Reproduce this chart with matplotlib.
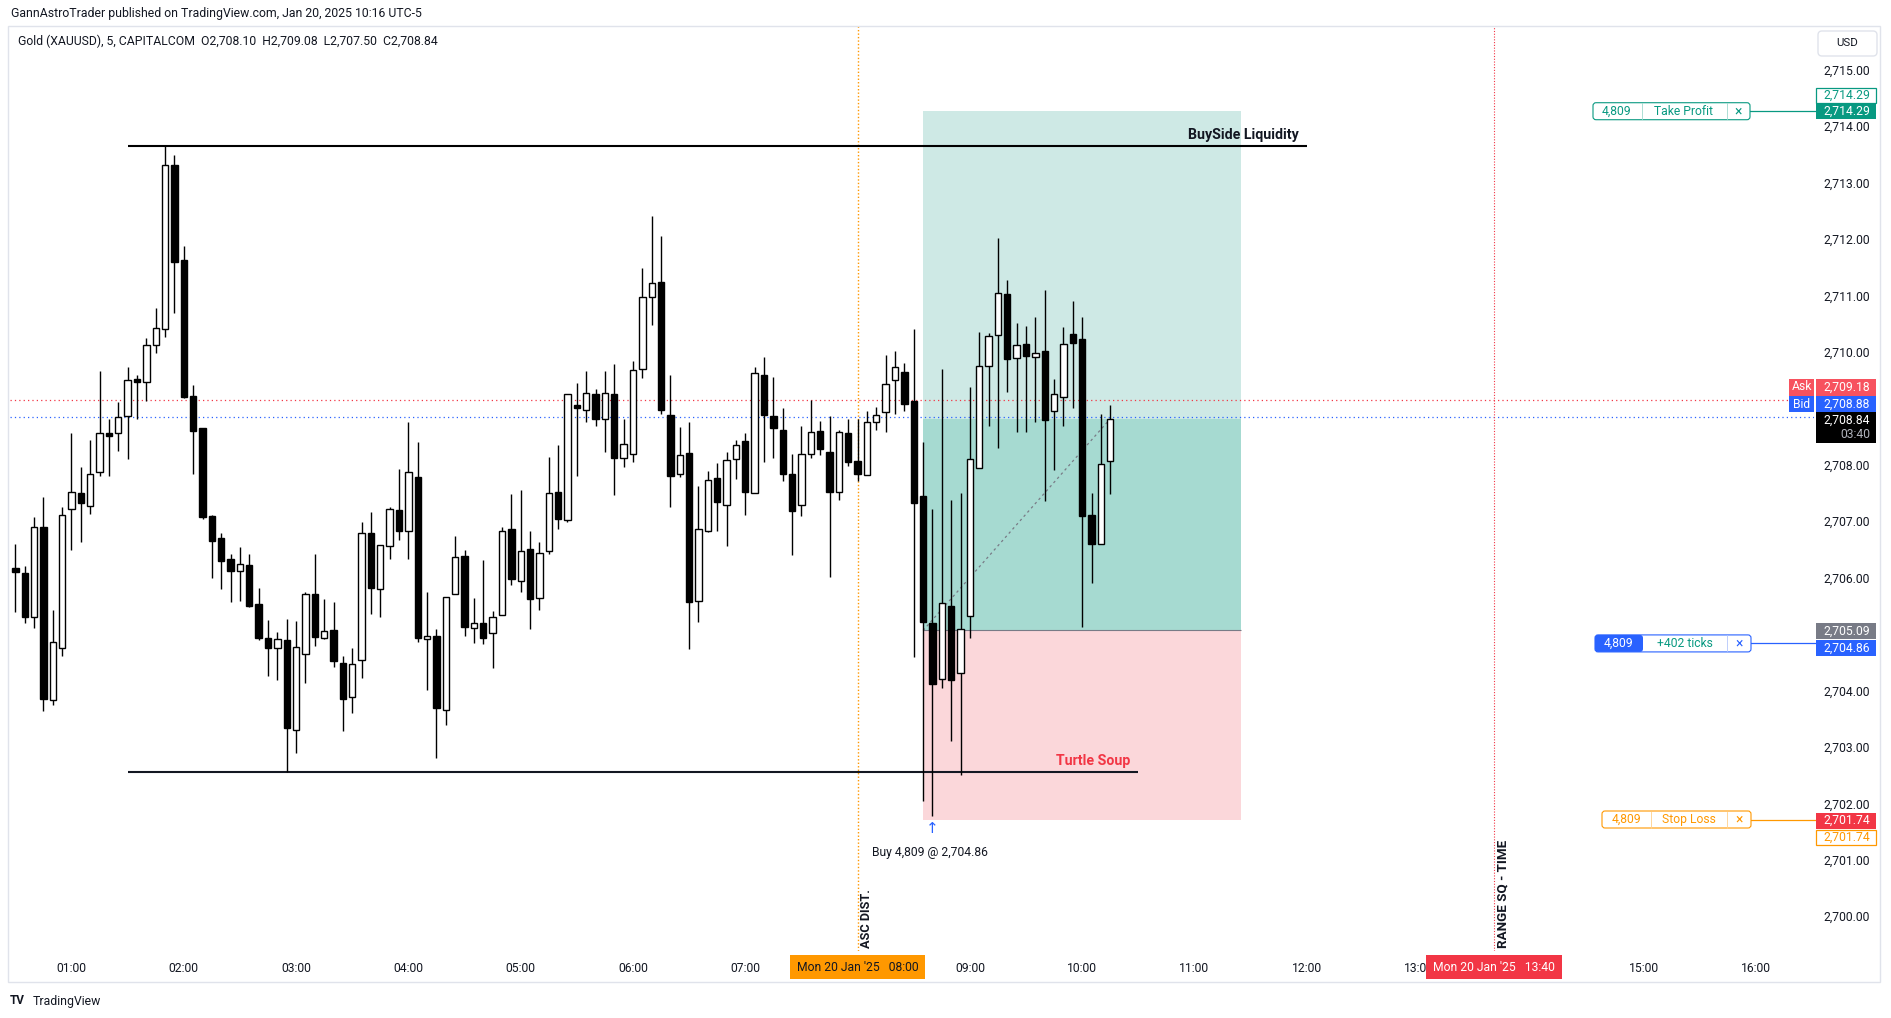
import numpy as np
import matplotlib.pyplot as plt
from matplotlib.patches import FancyBboxPatch
from matplotlib.transforms import IdentityTransform

plt.rcParams['font.family'] = ['Roboto', 'DejaVu Sans']

W, H = 1891, 1018

# 5 minute bars of Gold (XAUUSD), first bar 00:30
first_bar = '00:30'
bar_minutes = 5
opens = [2706.19, 2706.11, 2705.33, 2706.92, 2703.85, 2704.78, 2707.24, 2707.52, 2707.30, 2707.89,
         2708.58, 2708.58, 2708.89, 2709.53, 2709.49, 2710.15, 2710.44, 2713.34, 2711.66, 2709.25,
         2708.68, 2707.11, 2706.72, 2706.35, 2706.14, 2706.25, 2705.56, 2704.96, 2704.77, 2704.92,
         2703.33, 2704.67, 2705.74, 2704.96, 2705.10, 2704.51, 2703.91, 2704.57, 2706.82, 2705.83,
         2706.58, 2707.23, 2706.85, 2707.80, 2704.94, 2704.99, 2703.68, 2705.74, 2706.41, 2705.13,
         2705.23, 2705.05, 2705.37, 2706.88, 2705.97, 2706.54, 2705.67, 2706.49, 2707.55, 2707.05,
         2709.09, 2708.99, 2709.28, 2708.83, 2709.28, 2708.14, 2708.21, 2709.72, 2710.99, 2711.27,
         2708.90, 2707.86, 2708.23, 2705.62, 2706.85, 2707.79, 2707.32, 2708.12, 2708.44, 2707.52,
         2709.61, 2708.89, 2708.65, 2707.86, 2707.32, 2708.21, 2708.62, 2708.25, 2707.55, 2708.59,
         2708.09, 2707.84, 2708.79, 2708.96, 2709.52, 2709.67, 2709.15, 2707.47, 2705.23, 2704.23,
         2705.53, 2704.34, 2705.35, 2707.96, 2709.77, 2710.33, 2711.05, 2709.92, 2710.16, 2709.94,
         2710.04, 2708.97, 2709.22, 2710.35, 2710.26, 2707.13, 2706.62, 2708.10]
highs = [2706.62, 2706.24, 2707.10, 2707.46, 2705.45, 2707.28, 2708.58, 2707.99, 2708.47, 2709.68,
         2708.83, 2709.13, 2709.76, 2709.62, 2710.28, 2710.80, 2713.68, 2713.51, 2711.90, 2709.44,
         2708.68, 2707.14, 2706.82, 2706.44, 2706.57, 2706.44, 2705.84, 2705.28, 2705.06, 2705.30,
         2705.25, 2705.77, 2706.44, 2705.64, 2705.59, 2704.63, 2704.77, 2707.01, 2707.19, 2706.60,
         2707.28, 2707.95, 2708.79, 2708.43, 2705.77, 2705.11, 2705.69, 2706.76, 2706.51, 2705.67,
         2706.34, 2705.43, 2706.92, 2707.51, 2707.58, 2706.85, 2706.65, 2708.17, 2708.38, 2709.28,
         2709.48, 2709.68, 2709.37, 2709.69, 2709.81, 2708.84, 2709.86, 2711.51, 2712.43, 2712.08,
         2709.61, 2708.70, 2708.79, 2707.65, 2707.92, 2708.06, 2708.25, 2708.47, 2708.59, 2709.76,
         2709.94, 2709.58, 2709.04, 2708.22, 2708.72, 2709.18, 2708.80, 2708.89, 2708.65, 2708.83,
         2708.84, 2708.97, 2709.05, 2709.97, 2710.05, 2709.83, 2710.44, 2708.43, 2707.24, 2709.72,
         2707.41, 2707.52, 2709.40, 2710.38, 2710.36, 2712.04, 2711.30, 2710.54, 2710.48, 2710.65,
         2711.12, 2709.55, 2710.46, 2710.92, 2710.64, 2707.52, 2708.93, 2709.08]
lows = [2705.42, 2705.22, 2705.13, 2703.66, 2703.77, 2704.63, 2706.52, 2706.66, 2707.16, 2707.83,
        2707.83, 2708.27, 2708.12, 2708.83, 2709.15, 2710.00, 2710.29, 2710.72, 2709.20, 2707.86,
        2707.07, 2706.02, 2705.83, 2705.59, 2705.61, 2705.51, 2704.92, 2704.28, 2704.22, 2702.58,
        2702.91, 2704.16, 2704.81, 2704.94, 2704.44, 2703.31, 2703.62, 2704.24, 2705.38, 2705.32,
        2706.35, 2706.70, 2706.35, 2704.88, 2704.03, 2702.83, 2703.42, 2705.74, 2704.99, 2704.87,
        2704.85, 2704.42, 2705.37, 2705.90, 2705.77, 2705.12, 2705.46, 2706.45, 2706.89, 2707.02,
        2707.83, 2708.78, 2708.71, 2708.25, 2707.49, 2707.99, 2708.07, 2709.56, 2710.50, 2708.93,
        2707.28, 2707.80, 2704.76, 2705.24, 2706.84, 2706.85, 2706.59, 2707.78, 2707.13, 2707.52,
        2708.07, 2708.15, 2707.73, 2706.43, 2707.11, 2708.14, 2708.19, 2706.04, 2707.41, 2708.01,
        2707.73, 2707.84, 2708.64, 2708.60, 2708.93, 2708.97, 2704.62, 2702.07, 2701.80, 2704.07,
        2703.13, 2702.52, 2704.95, 2707.96, 2708.72, 2708.32, 2709.31, 2708.61, 2708.60, 2708.79,
        2707.39, 2707.93, 2708.71, 2709.04, 2705.15, 2705.93, 2706.62, 2707.50]
closes = [2706.13, 2705.32, 2706.93, 2703.87, 2704.88, 2707.14, 2707.54, 2707.34, 2707.87, 2708.58,
          2708.54, 2708.87, 2709.53, 2709.49, 2710.15, 2710.45, 2713.33, 2711.62, 2709.22, 2708.62,
          2707.10, 2706.68, 2706.32, 2706.15, 2706.27, 2705.53, 2704.95, 2704.78, 2704.94, 2703.36,
          2704.80, 2705.74, 2704.98, 2705.08, 2704.55, 2703.88, 2704.50, 2706.82, 2705.85, 2706.60,
          2707.25, 2706.86, 2707.89, 2704.95, 2704.99, 2703.71, 2705.69, 2706.39, 2705.15, 2705.23,
          2704.95, 2705.33, 2706.86, 2706.00, 2706.50, 2705.65, 2706.47, 2707.52, 2707.07, 2709.28,
          2709.04, 2709.29, 2708.83, 2709.29, 2708.15, 2708.39, 2709.70, 2711.00, 2711.25, 2709.00,
          2707.83, 2708.19, 2705.59, 2706.88, 2707.75, 2707.36, 2708.11, 2708.37, 2707.54, 2709.65,
          2708.90, 2708.67, 2707.87, 2707.20, 2708.21, 2708.60, 2708.30, 2707.54, 2708.60, 2708.07,
          2707.87, 2708.79, 2708.90, 2709.46, 2709.76, 2709.11, 2707.34, 2705.24, 2704.14, 2705.57,
          2704.21, 2705.12, 2708.12, 2709.77, 2710.31, 2711.07, 2709.90, 2710.15, 2709.95, 2710.01,
          2708.81, 2709.28, 2710.16, 2710.18, 2707.11, 2706.62, 2708.04, 2708.84]

hour_labels = ['01:00', '02:00', '03:00', '04:00', '05:00', '06:00', '07:00', '08:00',
               '09:00', '10:00', '11:00', '12:00', '13:00', '14:00', '15:00', '16:00']
price_ticks = [2700, 2701, 2702, 2703, 2704, 2705, 2706, 2707, 2708, 2709,
               2710, 2711, 2712, 2713, 2714, 2715]

# drawings / levels
buyside_level = 2713.68
buyside_span = ('01:30', '12:00')
turtle_level = 2702.58
turtle_span = ('01:30', '10:30')
asc_dist_time = '08:00'
range_sq_time = '13:40'
entry_time, box_end_time, fill_time = '08:35', '11:25', '08:40'
entry_price, take_profit, stop_loss, fill_price = 2705.09, 2714.29, 2701.74, 2704.86
ask_price, bid_price = 2709.18, 2708.88
qty = '4,809'


def bar_index(t):
    h, m = map(int, t.split(':'))
    fh, fm = map(int, first_bar.split(':'))
    return ((h * 60 + m) - (fh * 60 + fm)) / bar_minutes


fig = plt.figure(figsize=(W / 100, H / 100), dpi=100)
fig.patch.set_facecolor('white')
ax = fig.add_axes([10 / W, 1 - 951 / H, (1814 - 10) / W, (951 - 26) / H])
ax.set_xlim(-0.57, 192.2)
ax.set_ylim(2699.41, 2715.80)
ax.axis('off')

# long position box
e0, e1 = bar_index(entry_time), bar_index(box_end_time)
last_close = closes[-1]
ax.fill_between([e0, e1], entry_price, take_profit, color='#cee9e5', lw=0, zorder=1)
ax.fill_between([e0, e1], entry_price, last_close, color='#a6dad1', lw=0, zorder=1)
ax.fill_between([e0, e1], stop_loss, entry_price, color='#fbd7da', lw=0, zorder=1)
ax.hlines(entry_price, e0, e1, color='#787b86', lw=0.8, zorder=1.5)
ax.plot([e0, len(closes) - 1], [entry_price, last_close], color='#787b86',
        ls=(0, (2, 2.5)), lw=0.9, zorder=2)

# ask / bid lines
ax.axhline(ask_price, color='#f23645', ls=(0, (1, 2.5)), lw=0.9, zorder=2)
ax.axhline(bid_price, color='#2962ff', ls=(0, (1, 2.5)), lw=0.9, zorder=2)

# time markers
ax.axvline(bar_index(asc_dist_time), color='#ff9800', ls=(0, (1, 1.5)), lw=1.0, zorder=2)
ax.axvline(bar_index(range_sq_time), color='#f23645', ls=(0, (1, 1.5)), lw=0.8, zorder=2)

# liquidity lines
ax.hlines(buyside_level, bar_index(buyside_span[0]), bar_index(buyside_span[1]),
          color='black', lw=1.5, zorder=2)
ax.hlines(turtle_level, bar_index(turtle_span[0]), bar_index(turtle_span[1]),
          color='#131722', lw=1.5, zorder=2)

# candles
x = np.arange(len(closes))
o, c = np.array(opens), np.array(closes)
ax.vlines(x, lows, highs, color='black', lw=1.0, zorder=3)
up = c >= o
body_low = np.minimum(o, c)
body_h = np.maximum(np.abs(c - o), 0.05)
ax.bar(x, body_h, bottom=body_low, width=0.68, color=np.where(up, 'white', 'black'),
       edgecolor='black', linewidth=1.0, zorder=4)

# chart labels
ax.text(bar_index(buyside_span[1]) - 0.9, buyside_level + 0.07, 'BuySide Liquidity',
        ha='right', va='bottom', fontsize=10.2, fontweight='bold', color='#131722', zorder=6)
ax.text(bar_index(turtle_span[1]) - 0.8, turtle_level + 0.07, 'Turtle Soup',
        ha='right', va='bottom', fontsize=10.2, fontweight='bold', color='#f23645', zorder=6)
ax.text(bar_index(asc_dist_time) + 1.0, 2699.47, 'ASC DIST.', rotation=90, ha='center',
        va='bottom', fontsize=9.2, fontweight='bold', color='#131722', zorder=6)
ax.text(bar_index(range_sq_time) + 1.0, 2699.47, 'RANGE SQ - TIME', rotation=90, ha='center',
        va='bottom', fontsize=9.6, fontweight='bold', color='#131722', zorder=6)
ax.text(bar_index(fill_time), stop_loss - 0.02, '\u2191', ha='center', va='top', fontsize=11,
        color='#2962ff', family='DejaVu Sans', zorder=6)
ax.text(bar_index(fill_time) - 0.3, stop_loss - 0.47, f'Buy {qty} @ 2,704.86', ha='center',
        va='top', fontsize=8.7, color='#131722', zorder=6)

ID = IdentityTransform()


def ypix(p):
    return H - ax.transData.transform((0, p))[1]


def xpix(k):
    return ax.transData.transform((k, 0))[0]


def rect(x0, y0, w, h, fc='none', ec='none', lw=0.8, r=0, z=10):
    style = f'round,pad=0,rounding_size={r}' if r else 'square,pad=0'
    fig.add_artist(FancyBboxPatch((x0, H - y0 - h), w, h, boxstyle=style, fc=fc, ec=ec,
                                  lw=lw, transform=ID, zorder=z))


def txt(x0, y0, s, z=11, **kw):
    kw.setdefault('fontsize', 8.7)
    kw.setdefault('va', 'center')
    fig.text(x0, H - y0, s, transform=ID, zorder=z, **kw)


def hline(x0, x1, y0, color, lw=0.9):
    fig.add_artist(plt.Line2D([x0, x1], [H - y0, H - y0], color=color, lw=lw, transform=ID, zorder=9))


def vline(x0, y0, y1, color, lw=0.6):
    fig.add_artist(plt.Line2D([x0, x0], [H - y0, H - y1], color=color, lw=lw, transform=ID, zorder=12))


# frame
rect(8, 26, 1872, 956, ec='#e0e3eb', lw=1.0, z=1)

# header
txt(11, 13, 'GannAstroTrader published on TradingView.com, Jan 20, 2025 10:16 UTC-5',
    fontsize=8.8, color='#131722')
txt(18, 41, 'Gold (XAUUSD), 5, CAPITALCOM  O2,708.10  H2,709.08  L2,707.50  C2,708.84',
    fontsize=8.8, color='#131722')

# price-axis labels (coloured tags placed first so covered ticks can be skipped)
y_tp = ypix(take_profit)
y_fill = ypix(fill_price)
y_sl = ypix(stop_loss)
tag_spans = []


def axis_label(yc, s, fc, tc='white', ec='none', h=16):
    rect(1816, yc - h / 2, 60, h, fc=fc, ec=ec, lw=0.9)
    txt(1870, yc, s, ha='right', color=tc)
    tag_spans.append((yc - h / 2, yc + h / 2))


axis_label(y_tp - 16, f'{take_profit:,.2f}', 'white', '#089981', '#089981', h=15)
axis_label(y_tp, f'{take_profit:,.2f}', '#089981')
axis_label(387, f'{ask_price:,.2f}', '#f7525f', h=17)
axis_label(404, f'{bid_price:,.2f}', '#2962ff')
rect(1789, 378.5, 25, 17, fc='#f7525f')
txt(1801.5, 387, 'Ask', ha='center', color='white')
rect(1789, 396, 25, 16, fc='#2962ff')
txt(1801.5, 404, 'Bid', ha='center', color='white')
rect(1816, 412, 60, 31, fc='black')
tag_spans.append((412, 443))
txt(1870, 420, f'{last_close:,.2f}', ha='right', color='white')
txt(1870, 435, '03:40', ha='right', color='#b2b5be')
axis_label(y_fill - 12, f'{entry_price:,.2f}', '#787b86')
axis_label(y_fill + 5, f'{fill_price:,.2f}', '#2962ff')
axis_label(y_sl + 1, f'{stop_loss:,.2f}', '#f23645')
axis_label(y_sl + 17.5, f'{stop_loss:,.2f}', 'white', '#ff9800', '#ff9800', h=15)

for p in price_ticks:
    yp = ypix(p)
    if any(a - 2 < yp < b + 2 for a, b in tag_spans):
        continue
    txt(1870, yp, f'{p:,.2f}', ha='right', color='#131722', z=5)
rect(1818, 31, 59, 25, fc='white', ec='#e0e3eb', lw=1.0, r=4)
txt(1847, 43.5, 'USD', ha='center', fontsize=8.2, color='#131722')

# order lines on the right
hline(1750, 1816, y_tp, '#089981')
rect(1593, y_tp - 8.5, 157, 17, fc='white', ec='#089981', lw=0.8, r=3)
vline(1642, y_tp - 8, y_tp + 8, '#9fd8cd')
vline(1727, y_tp - 8, y_tp + 8, '#9fd8cd')
txt(1617, y_tp, qty, ha='center', color='#089981')
txt(1684, y_tp, 'Take Profit', ha='center', color='#089981')
txt(1738, y_tp, '\u00d7', ha='center', color='#089981', fontsize=10)

hline(1751, 1816, y_fill, '#2962ff')
rect(1595, y_fill - 8.5, 156, 17, fc='white', ec='#2962ff', lw=0.8, r=3)
rect(1595, y_fill - 8.5, 48, 17, fc='#2962ff', r=3)
vline(1727, y_fill - 8, y_fill + 8, '#b4c6fb')
txt(1619, y_fill, qty, ha='center', color='white')
txt(1685, y_fill, '+402 ticks', ha='center', color='#089981')
txt(1739, y_fill, '\u00d7', ha='center', color='#2962ff', fontsize=10)

hline(1751, 1816, y_sl, '#ff9800')
rect(1602, y_sl - 8.5, 149, 17, fc='white', ec='#ff9800', lw=0.8, r=3)
vline(1651, y_sl - 8, y_sl + 8, '#ffd08a')
vline(1727, y_sl - 8, y_sl + 8, '#ffd08a')
txt(1626, y_sl, qty, ha='center', color='#ff9800')
txt(1689, y_sl, 'Stop Loss', ha='center', color='#ff9800')
txt(1739, y_sl, '\u00d7', ha='center', color='#ff9800', fontsize=10)

# time axis, with the two date tags drawn over the hour labels
xa = xpix(bar_index(asc_dist_time))
xr = xpix(bar_index(range_sq_time))
time_tags = [(xa - 67.5, xa + 67.5), (xr - 68, xr + 68)]
for lab in hour_labels:
    xl = xpix(bar_index(lab))
    if any(a < xl < b for a, b in time_tags):
        continue
    txt(xl, 968, lab, ha='center', color='#131722', z=5)
rect(xa - 67.5, 955, 135, 24, fc='#ff9800')
txt(xa, 967.5, "Mon 20 Jan '25   08:00", ha='center', color='#131722')
rect(xr - 68, 955, 136, 24, fc='#f23645')
txt(xr, 967.5, "Mon 20 Jan '25   13:40", ha='center', color='white')

# logo
txt(10, 1001, 'TV', fontsize=8.5, fontweight='bold', color='#131722')
txt(33, 1001, 'TradingView', fontsize=8.8, color='#131722')

fig.savefig('out.png', dpi=100)
